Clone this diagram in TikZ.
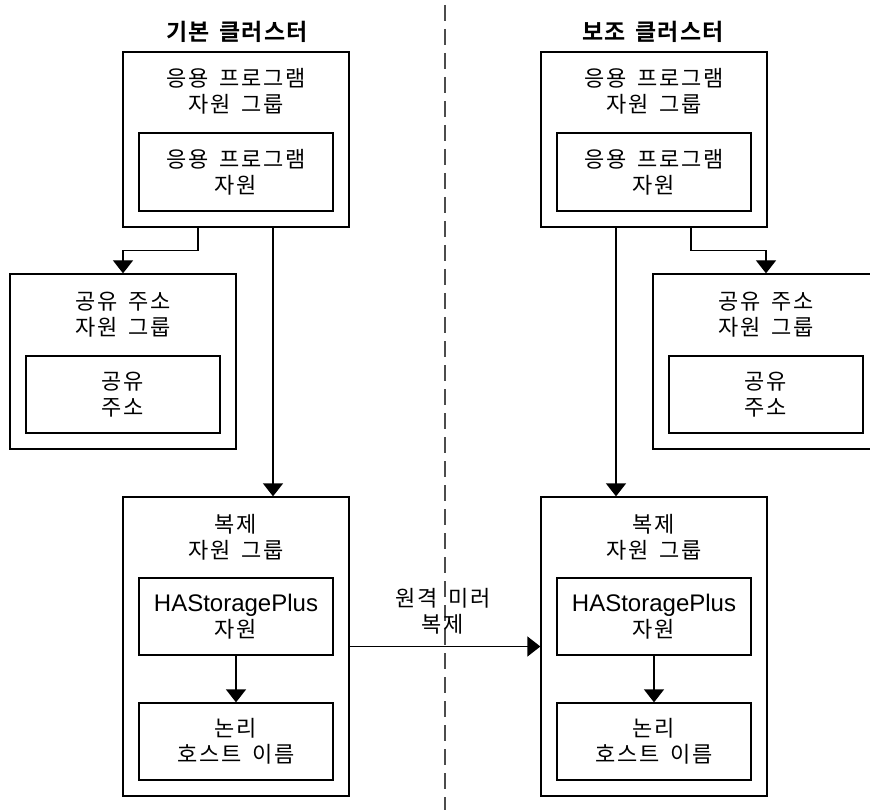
\documentclass[tikz,border=0pt]{standalone}
\usepackage{fontspec}
\setmainfont{Noto Sans CJK KR}
\newfontfamily\kr[LetterSpace=8,WordSpace=1.6]{Noto Sans CJK KR}
\newfontfamily\krb[LetterSpace=6,WordSpace=1.4]{Noto Sans CJK KR Bold}
\newfontfamily\lat{Liberation Sans}
\usetikzlibrary{arrows.meta}
\tikzset{
  grp/.style={draw, line width=1.3pt, minimum width=226pt, inner sep=0pt},
  inbox/.style={draw, line width=1.3pt, minimum width=194pt, minimum height=77pt, inner sep=0pt, align=center, font=\kr\fontsize{22}{26}\selectfont},
  lbl/.style={align=center, inner sep=0pt, font=\kr\fontsize{22}{26}\selectfont},
  ttl/.style={inner sep=0pt, font=\krb\fontsize{23}{26}\selectfont},
  arr/.style={line width=1.3pt, -{Triangle[width=20pt,length=13pt]}},
  divider/.style={line width=2pt, draw=black!70, dash pattern=on 16pt off 8pt}
}
\begin{document}
\begin{tikzpicture}[x=1pt,y=-1pt]
\useasboundingbox (0,0) rectangle (870,810);
\clip (0,0) rectangle (870,810);

% divider
\coordinate (dtop) at (445,5);
\coordinate (dbot) at (445,812);
\draw[divider] (dtop) -- (dbot);

% titles
\node[ttl] (t1) at (237,32) {기본 클러스터};
\node[ttl] (t2) at (653,32) {보조 클러스터};

% ---------- left cluster ----------
\node[grp, minimum height=175pt] (lapp) at (236,139.5) {};
\node[lbl] (lappl) at (236,91) {응용 프로그램\\자원 그룹};
\node[inbox, minimum height=78pt] (lappr) at (236,172) {응용 프로그램\\자원};

\node[grp, minimum height=175pt] (lsh) at (123,361.5) {};
\node[lbl] (lshl) at (123,314.5) {공유 주소\\자원 그룹};
\node[inbox] (lshr) at (123,394.5) {공유\\주소};

\node[grp, minimum height=299pt] (lrep) at (236,646.5) {};
\node[lbl] (lrepl) at (236,537.5) {복제\\자원 그룹};
\node[inbox] (lhas) at (236,616.5) {{\lat\fontsize{24}{26}\selectfont HAStoragePlus}\\자원};
\node[inbox] (lhost) at (236,741.5) {논리\\호스트 이름};

% ---------- right cluster ----------
\node[grp, minimum height=175pt] (rapp) at (654,139.5) {};
\node[lbl] (rappl) at (654,91) {응용 프로그램\\자원 그룹};
\node[inbox, minimum height=78pt] (rappr) at (654,172) {응용 프로그램\\자원};

\node[grp, minimum height=175pt] (rsh) at (766,361.5) {};
\node[lbl] (rshl) at (766,314.5) {공유 주소\\자원 그룹};
\node[inbox] (rshr) at (766,394.5) {공유\\주소};

\node[grp, minimum height=299pt] (rrep) at (654,646.5) {};
\node[lbl] (rrepl) at (654,537.5) {복제\\자원 그룹};
\node[inbox] (rhas) at (654,616.5) {{\lat\fontsize{24}{26}\selectfont HAStoragePlus}\\자원};
\node[inbox] (rhost) at (654,741.5) {논리\\호스트 이름};

% ---------- connectors ----------
\draw[arr] ([xshift=-38pt]lapp.south) -- ++(0,23) -| (lsh.north);
\draw[arr] ([xshift=37pt]lapp.south) -- ([xshift=37pt]lrep.north);
\draw[arr] (lhas) -- (lhost);

\draw[arr] ([xshift=-38pt]rapp.south) -- ([xshift=-38pt]rrep.north);
\draw[arr] ([xshift=37pt]rapp.south) -- ++(0,23) -| (rsh.north);
\draw[arr] (rhas) -- (rhost);

\draw[arr] (lrep.east) -- (rrep.west);
\node[lbl] (mirror) at (443,611.5) {원격 미러\\복제};
\end{tikzpicture}
\end{document}
